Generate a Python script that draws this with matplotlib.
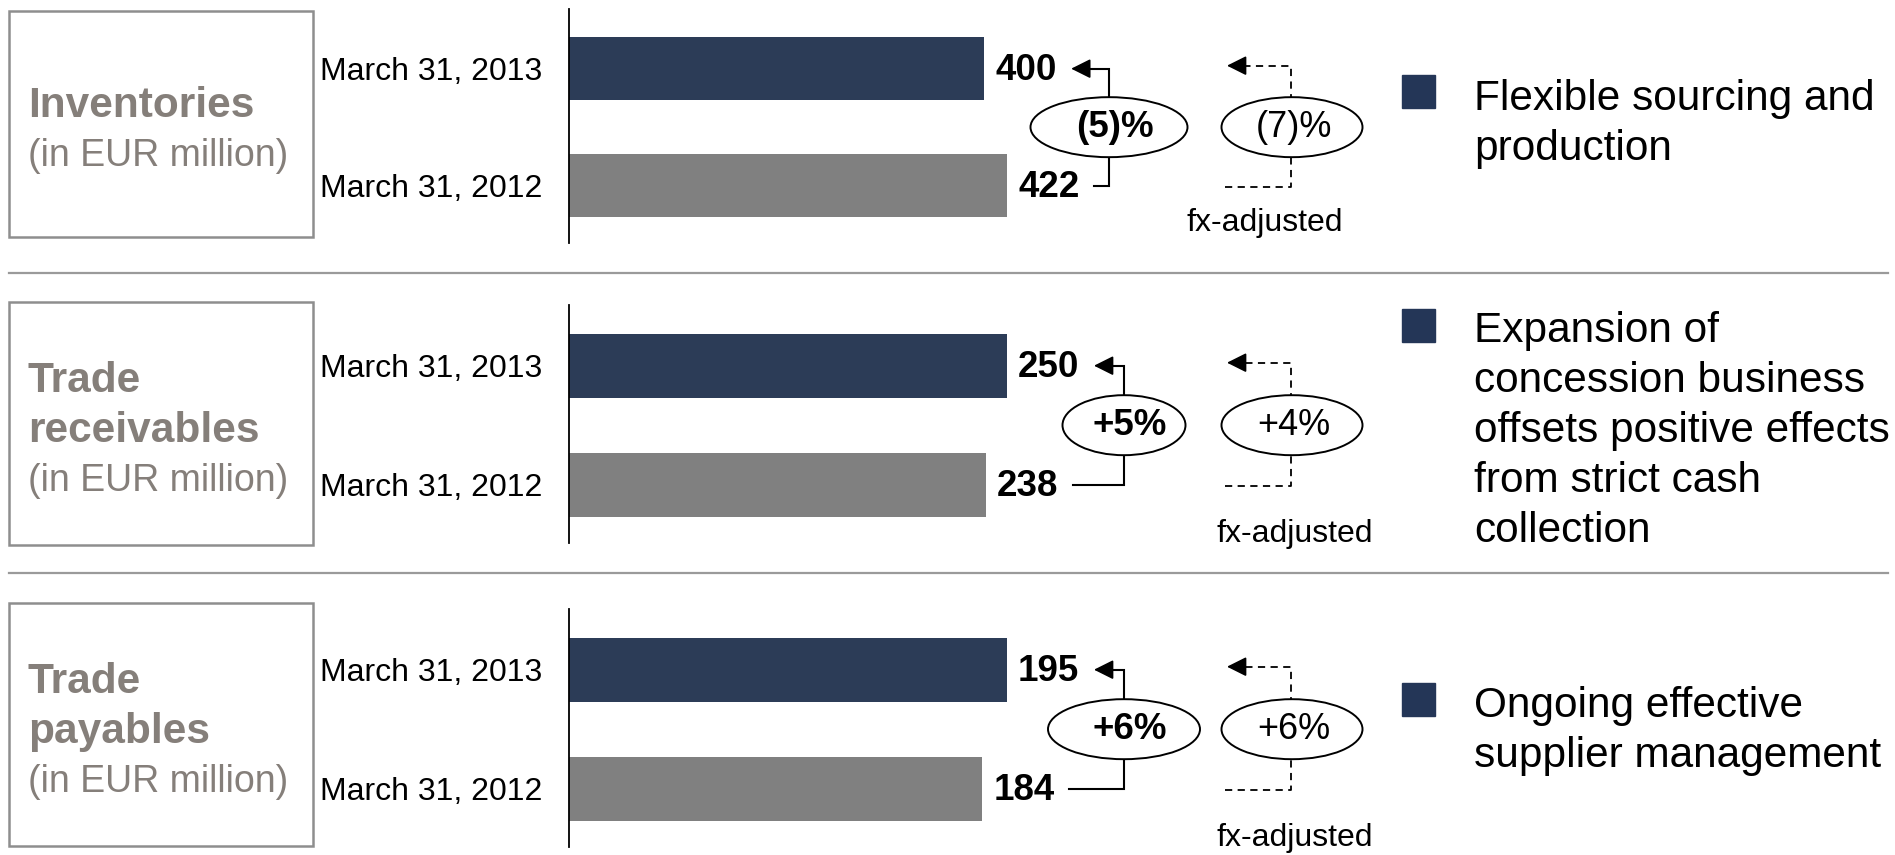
import matplotlib.pyplot as plt
from matplotlib.patches import Ellipse, Rectangle

plt.rcParams['font.family'] = ['Liberation Sans', 'DejaVu Sans']

# working capital items, EUR million
titles = [["Inventories"], ["Trade", "receivables"], ["Trade", "payables"]]
unit = "(in EUR million)"
dates = ["March 31, 2013", "March 31, 2012"]
values_2013 = [400, 250, 195]
values_2012 = [422, 238, 184]
change_reported = ["(5)%", "+5%", "+6%"]
change_fx = ["(7)%", "+4%", "+6%"]
fx_note = "fx-adjusted"
comments = ["Flexible sourcing and\nproduction",
            "Expansion of\nconcession business\noffsets positive effects\nfrom strict cash\ncollection",
            "Ongoing effective\nsupplier management"]

navy = '#2c3c57'
grey_bar = '#808080'
title_grey = '#857f7a'

W, H = 1895, 855
fig = plt.figure(figsize=(W / 100, H / 100), dpi=100)

# page-level layer in pixel units (y down) for boxes, brackets and notes
page = fig.add_axes([0, 0, 1, 1])
page.set_xlim(0, W)
page.set_ylim(H, 0)
page.axis('off')

axis_x, bar_len = 569, 438
axis_top = [9, 305, 609]
axis_bottom = [243, 543, 847]
box_top = [11, 302, 603]
box_bottom = [237, 545, 846]
title_y = [106, 381, 682]
square_top = [75, 309, 683]
comment_y = [94, 326, 701]
bracket_x = [1109, 1124, 1124]
oval_w = [157, 123, 152]
note_x = [1265, 1295, 1295]
note_dy = [37, 49, 49]
fx_x = 1291

for y in [273, 573]:
    page.plot([9, 1888], [y, y], color='#9a9a9a', lw=1.6)

arrow = dict(arrowstyle='-|>,head_length=0.6,head_width=0.3', color='black',
             lw=1.2, mutation_scale=20, shrinkA=0, shrinkB=0)

for i in range(3):
    # title box
    page.add_patch(Rectangle((9, box_top[i]), 304, box_bottom[i] - box_top[i],
                             fill=False, ec='#8e8e8e', lw=1.8))
    lines = titles[i] + [unit]
    for k, line in enumerate(lines):
        bold = k < len(titles[i])
        page.text(28, title_y[i] + 50 * k, line, ha='left', va='center',
                  fontsize=30.5 if bold else 27, color=title_grey,
                  fontweight='bold' if bold else 'normal')

    # bars
    ax = fig.add_axes([axis_x / W, 1 - axis_bottom[i] / H, bar_len / W,
                       (axis_bottom[i] - axis_top[i]) / H])
    ax.set_facecolor('none')
    vals = [values_2013[i], values_2012[i]]
    ax.barh([0, 1], vals, height=0.54, color=[navy, grey_bar])
    ax.set_xlim(0, max(vals))
    ax.set_ylim(1.49, -0.51)
    ax.set_yticks([0, 1], dates, fontsize=23)
    ax.tick_params(axis='y', length=0, pad=19)
    ax.set_xticks([])
    for s in ['top', 'right', 'bottom']:
        ax.spines[s].set_visible(False)
    ax.spines['left'].set_linewidth(1.3)
    for k, v in enumerate(vals):
        ax.annotate(str(v), xy=(v, k), xytext=(8, -1.5), textcoords='offset points',
                    ha='left', va='center', fontsize=26.5, fontweight='bold')

    # bar ends in page pixels
    ends = []
    for k, v in enumerate(vals):
        px, py = ax.transData.transform((v, k))
        ends.append((px, H - py))
    y_top, y_bot = ends[0][1], ends[1][1]
    y_mid = (y_top + y_bot) / 2
    bx = bracket_x[i]

    # reported change bracket
    tip = ends[0][0] + 87
    page.plot([ends[1][0] + 87, bx, bx, tip + 11], [y_bot, y_bot, y_top, y_top],
              color='black', lw=1.5, solid_joinstyle='miter', zorder=2)
    page.annotate('', xy=(tip, y_top), xytext=(tip + 12, y_top), arrowprops=arrow)
    page.add_patch(Ellipse((bx, y_mid), oval_w[i], 60, fc='white', ec='black',
                           lw=1.4, zorder=3))
    page.text(bx + 6, y_mid, change_reported[i], ha='center', va='center',
              fontsize=26.5, fontweight='bold', zorder=4)

    # fx-adjusted bracket
    ft = y_top - 3
    page.plot([1225, fx_x, fx_x, 1239], [y_bot + 1, y_bot + 1, ft, ft],
              color='black', lw=1.3, ls=(0, (4, 3)), zorder=2)
    page.annotate('', xy=(1227, ft), xytext=(1239, ft), arrowprops=arrow)
    page.add_patch(Ellipse((fx_x + 1, y_mid), 141, 60, fc='white', ec='black',
                           lw=1.4, zorder=3))
    page.text(fx_x + 3, y_mid, change_fx[i], ha='center', va='center',
              fontsize=26, zorder=4)
    page.text(note_x[i], y_bot + note_dy[i], fx_note, ha='center', va='center',
              fontsize=23)

    # comment
    page.add_patch(Rectangle((1402, square_top[i]), 33, 33, color='#243657'))
    page.text(1474, comment_y[i] - 15, comments[i], ha='left', va='top',
              fontsize=30.5, linespacing=1.32)

fig.savefig('out.png', dpi=100)
